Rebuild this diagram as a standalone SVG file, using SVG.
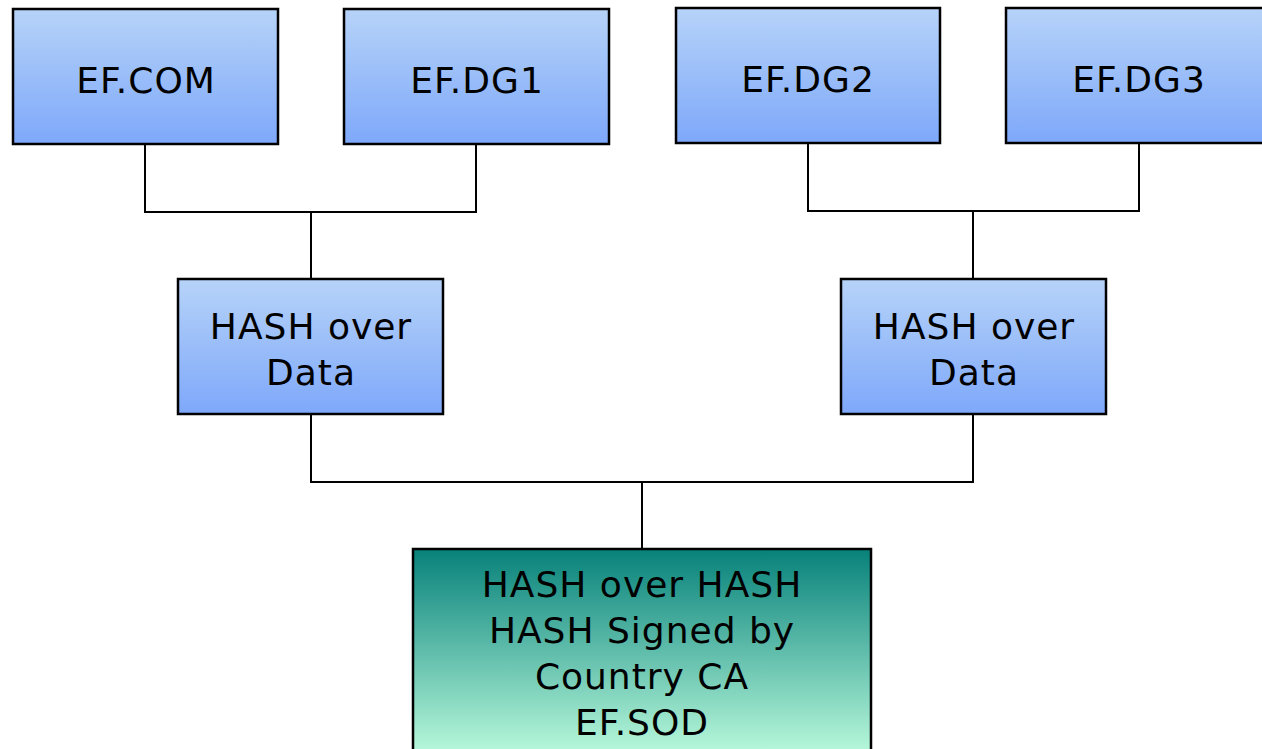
<svg xmlns="http://www.w3.org/2000/svg" width="1262" height="749" viewBox="0 0 1262 749">
  <style>
    .node { stroke: #000; stroke-width: 2.5; }
    .blue { fill: url(#blueGrad); }
    .teal { fill: url(#tealGrad); }
    .label { font-family: "DejaVu Sans", Verdana, sans-serif; font-size: 36px; fill: #000; text-anchor: middle; letter-spacing: 1px; }
    .wire { fill: none; stroke: #000; stroke-width: 2; }
  </style>
  <defs>
    <linearGradient id="blueGrad" x1="0" y1="0" x2="0" y2="1">
      <stop offset="0" stop-color="#b6d3f8"/>
      <stop offset="1" stop-color="#7ea8fa"/>
    </linearGradient>
    <linearGradient id="tealGrad" gradientUnits="userSpaceOnUse" x1="0" y1="549" x2="0" y2="749">
      <stop offset="0" stop-color="#07817a"/>
      <stop offset="1" stop-color="#b4f6d9"/>
    </linearGradient>
  </defs>
  <rect width="1262" height="749" fill="#fff"/>

  <g id="connectors">
    <path class="wire" d="M145 144 V212 H476 V144 M311 212 V279"/>
    <path class="wire" d="M808 143 V211 H1139 V143 M973 211 V279"/>
    <path class="wire" d="M311 414 V482 H973 V414 M642 482 V549"/>
  </g>

  <g id="ef-com">
    <rect class="node blue" x="13" y="9" width="265" height="135"/>
    <text class="label" x="146" y="93">EF.COM</text>
  </g>
  <g id="ef-dg1">
    <rect class="node blue" x="344" y="9" width="265" height="135"/>
    <text class="label" x="477" y="93">EF.DG1</text>
  </g>
  <g id="ef-dg2">
    <rect class="node blue" x="676" y="8" width="264" height="135"/>
    <text class="label" x="808" y="92">EF.DG2</text>
  </g>
  <g id="ef-dg3">
    <rect class="node blue" x="1006" y="8" width="265" height="135"/>
    <text class="label" x="1139" y="92">EF.DG3</text>
  </g>
  <g id="hash-left">
    <rect class="node blue" x="178" y="279" width="265" height="135"/>
    <text class="label" x="311" y="339">HASH over</text>
    <text class="label" x="311" y="385">Data</text>
  </g>
  <g id="hash-right">
    <rect class="node blue" x="841" y="279" width="265" height="135"/>
    <text class="label" x="974" y="339">HASH over</text>
    <text class="label" x="974" y="385">Data</text>
  </g>
  <g id="ef-sod">
    <rect class="node teal" x="413" y="549" width="458" height="215"/>
    <text class="label" x="642" y="597">HASH over HASH</text>
    <text class="label" x="642" y="643">HASH Signed by</text>
    <text class="label" x="642" y="689">Country CA</text>
    <text class="label" x="642" y="735">EF.SOD</text>
  </g>
</svg>
